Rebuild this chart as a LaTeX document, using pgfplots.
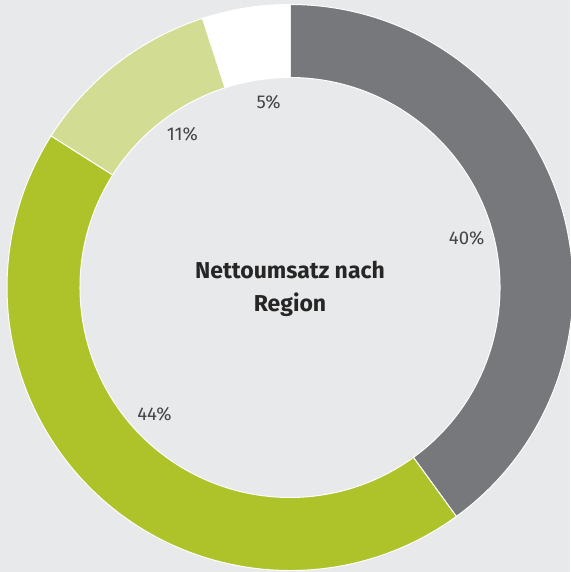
\documentclass[border=0pt]{standalone}
\usepackage{pgfplots}
\pgfplotsset{compat=1.18}
\usepackage{pgfplotstable}
\usepackage{fontspec}
\setmainfont{Fira Sans}
\definecolor{bgcol}{HTML}{E8E9EB}
\definecolor{cgrey}{HTML}{77787B}
\definecolor{cgreen}{HTML}{AEC32A}
\definecolor{clight}{HTML}{D3DC93}
\definecolor{cwhite}{HTML}{FFFFFF}
\definecolor{labcol}{HTML}{444446}
\pgfplotstableread{
value color
40 cgrey
44 cgreen
11 clight
5 cwhite
}\datatable
\begin{document}
\begin{tikzpicture}
\begin{axis}[
  x=1pt, y=1pt,
  xmin=0, xmax=570, ymin=0, ymax=572,
  hide axis, clip=false,
  scale only axis,
]
\fill[bgcol] (axis cs:0,0) rectangle (axis cs:570,572);
\path (axis cs:0,0) coordinate (ll) (axis cs:570,572) coordinate (ur);
\pgfmathsetmacro\cum{90}
\pgfplotsforeachungrouped \i in {0,...,3}{
  \pgfplotstablegetelem{\i}{value}\of\datatable
  \let\v\pgfplotsretval
  \pgfplotstablegetelem{\i}{color}\of\datatable
  \let\col\pgfplotsretval
  \pgfmathsetmacro\a{\cum}
  \pgfmathsetmacro\b{\cum-3.6*\v}
  \pgfmathsetmacro\m{(\a+\b)/2-3}
  \pgfmathsetmacro\ox{290+283*cos(\a)}
  \pgfmathsetmacro\oy{284.5+283*sin(\a)}
  \pgfmathsetmacro\ix{290+210*cos(\b)}
  \pgfmathsetmacro\iy{284.5+210*sin(\b)}
  \pgfmathsetmacro\lx{290+185*cos(\m)-2}
  \pgfmathsetmacro\ly{284.5+185*sin(\m)+1}
  \edef\tmp{\noexpand\fill[\col, draw=white, line width=1pt]
     (axis cs:\ox,\oy) arc[start angle=\a, end angle=\b, radius=283pt]
     -- (axis cs:\ix,\iy) arc[start angle=\b, end angle=\a, radius=210pt] -- cycle;
     \noexpand\node[text=labcol, font=\noexpand\fontsize{18.5}{20}\noexpand\selectfont] at (axis cs:\lx,\ly) {\v\noexpand\%};}
  \tmp
  \global\let\cum\b
}
\node[align=center, text=black!85, font=\fontsize{23}{33}\selectfont\bfseries] at (axis cs:290,283) {Nettoumsatz nach\\Region};
\end{axis}
\pgfresetboundingbox
\path[use as bounding box] (ll) rectangle (ur);
\end{tikzpicture}
\end{document}
